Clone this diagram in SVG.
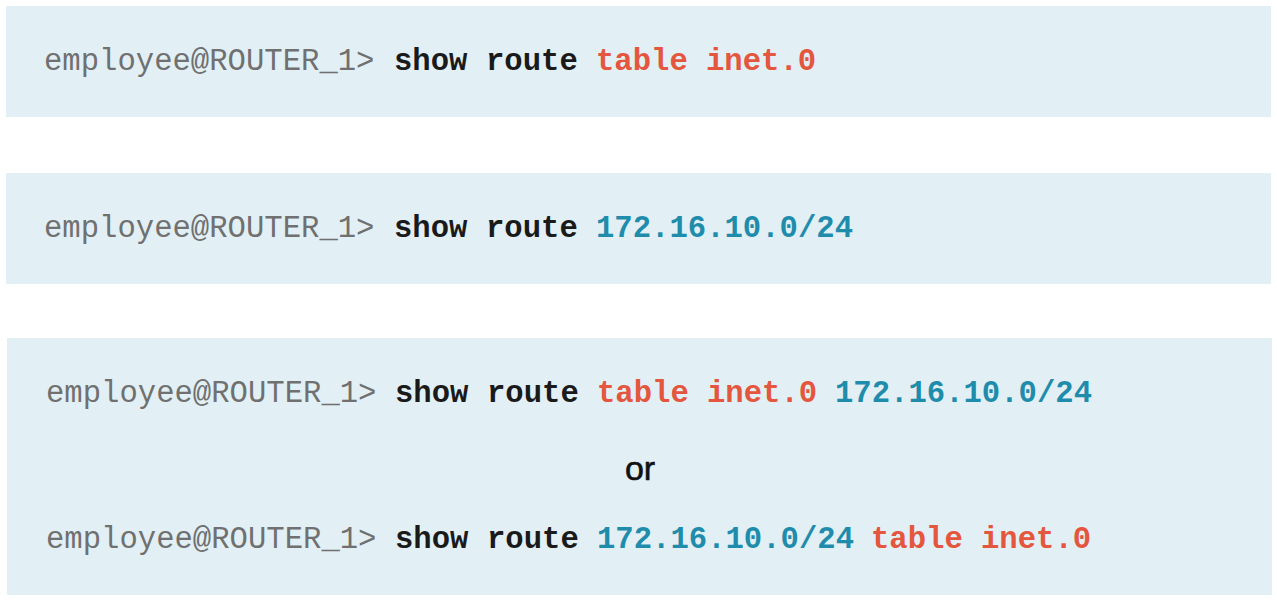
<svg xmlns="http://www.w3.org/2000/svg" width="1277" height="601" viewBox="0 0 1277 601">
<style>
.box{fill:#e2f0f6}
.cmd{font-family:"Liberation Mono","Courier New",monospace;font-size:30.6px}
.p{fill:#707070}
.k{fill:#1a1a1a;font-weight:bold}
.r{fill:#e4563d;font-weight:bold}
.b{fill:#1f8cab;font-weight:bold}
.or{font-family:"Liberation Sans",Arial,sans-serif;font-size:34px;fill:#111111;stroke:#111111;stroke-width:0.6}
</style>
<rect width="1277" height="601" fill="#ffffff"/>
<g id="box1">
<rect class="box" x="6" y="6" width="1265" height="111"/>
<text class="cmd" y="70"><tspan class="p" x="44">employee@ROUTER_1&gt;</tspan><tspan class="k" x="394">show</tspan><tspan class="k" x="486">route</tspan><tspan class="r" x="596">table</tspan><tspan class="r" x="706">inet.0</tspan></text>
</g>
<g id="box2">
<rect class="box" x="6" y="173" width="1265" height="111"/>
<text class="cmd" y="237"><tspan class="p" x="44">employee@ROUTER_1&gt;</tspan><tspan class="k" x="394">show</tspan><tspan class="k" x="486">route</tspan><tspan class="b" x="596">172.16.10.0/24</tspan></text>
</g>
<g id="box3">
<rect class="box" x="7" y="338" width="1265" height="257"/>
<text class="cmd" y="402"><tspan class="p" x="46">employee@ROUTER_1&gt;</tspan><tspan class="k" x="395">show</tspan><tspan class="k" x="487">route</tspan><tspan class="r" x="597">table</tspan><tspan class="r" x="707">inet.0</tspan><tspan class="b" x="835">172.16.10.0/24</tspan></text>
<text class="or" x="640" y="480" text-anchor="middle">or</text>
<text class="cmd" y="548"><tspan class="p" x="46">employee@ROUTER_1&gt;</tspan><tspan class="k" x="395">show</tspan><tspan class="k" x="487">route</tspan><tspan class="b" x="597">172.16.10.0/24</tspan><tspan class="r" x="871">table</tspan><tspan class="r" x="981">inet.0</tspan></text>
</g>
<g id="connectors"/>
</svg>
